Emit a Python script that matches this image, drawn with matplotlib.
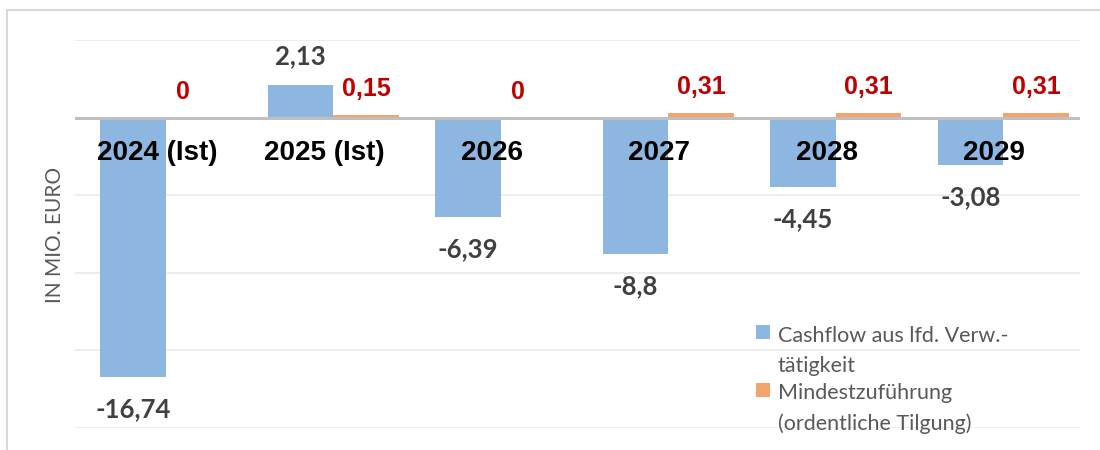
import numpy as np
import matplotlib
matplotlib.use('Agg')
import matplotlib.pyplot as plt
from matplotlib.patches import Rectangle
from matplotlib.legend_handler import HandlerPatch

categories = ['2024 (Ist)', '2025 (Ist)', '2026', '2027', '2028', '2029']
cashflow = [-16.74, 2.13, -6.39, -8.8, -4.45, -3.08]
zufuehrung = [0, 0.15, 0, 0.31, 0.31, 0.31]
series_names = ['Cashflow aus lfd. Verw.-\ntätigkeit',
                'Mindestzuführung\n(ordentliche Tilgung)']

BLUE = '#8DB7E0'
ORANGE = '#F3A46E'


def fmt(v):
    return f'{v:g}'.replace('.', ',')


class TopSquare(HandlerPatch):
    # Quadrat an der ersten Zeile des Labels ausrichten
    def __init__(self, shift, **kw):
        super().__init__(**kw)
        self.shift = shift

    def create_artists(self, legend, orig_handle, xdescent, ydescent,
                       width, height, fontsize, trans):
        p = Rectangle((-xdescent, -ydescent + self.shift), height, height,
                      facecolor=orig_handle.patches[0].get_facecolor(),
                      edgecolor='none', transform=trans)
        return [p]


fig = plt.figure(figsize=(11, 4.5), dpi=100)
ax = fig.add_axes([75 / 1100, 22 / 450, 1005 / 1100, 388 / 450])

x = np.arange(len(categories))
w = 0.39
b1 = ax.bar(x - w / 2, cashflow, w, color=BLUE, zorder=2, label=series_names[0])
b2 = ax.bar(x + w / 2, zufuehrung, w, color=ORANGE, zorder=2, label=series_names[1])

ax.set_xlim(-0.542, len(categories) - 0.542)
ax.set_ylim(-20, 5)
ax.set_yticks([-20, -15, -10, -5, 0, 5])
ax.grid(axis='y', color='#ececec', lw=1.3)
ax.set_axisbelow(True)
ax.tick_params(left=False, labelleft=False, bottom=False, labelbottom=False)
for s in ax.spines.values():
    s.set_visible(False)
ax.axhline(0, color='#bfbfbf', lw=2.2, zorder=3)

# Kategorien direkt unter der Nulllinie
for i, cat in enumerate(categories):
    ax.annotate(cat, (i, 0), xytext=(-9, -35), textcoords='offset pixels',
                ha='center', va='center', fontsize=20, fontweight='bold',
                family='Liberation Sans', color='black', zorder=6)

# Datenbeschriftungen
for i, v in enumerate(cashflow):
    dy = 28 if v > 0 else -32
    ax.annotate(fmt(v), (x[i] - w / 2, v), xytext=(0, dy), textcoords='offset pixels',
                ha='center', va='center', fontsize=18.5, fontweight='bold',
                family='Lato', color='#404040', zorder=6)
for i, v in enumerate(zufuehrung):
    dx = -16 if v == 0 else 0
    ax.annotate(fmt(v), (x[i] + w / 2, v), xytext=(dx, 26), textcoords='offset pixels',
                ha='center', va='center', fontsize=18, fontweight='bold',
                family='Liberation Sans', color='#C00000', zorder=6)

fig.text(55 / 1100, 1 - 235 / 450, 'IN MIO. EURO', rotation=90, ha='center', va='center',
         color='#595959', family='Lato', fontsize=15)

leg_fs = 15.5
handler = TopSquare(shift=13.5)
leg = ax.legend(handles=[b1, b2], loc='upper left',
                bbox_to_anchor=(756 / 1100, 1 - 326 / 450),
                bbox_transform=fig.transFigure, frameon=False, borderpad=0,
                borderaxespad=0, prop={'family': 'Lato', 'size': leg_fs},
                labelcolor='#595959', handlelength=0.62, handleheight=0.62,
                handletextpad=0.4, labelspacing=0.35,
                handler_map={b1: handler, b2: handler})
for t in leg.get_texts():
    t.set_linespacing(1.6)

fig.patches.append(Rectangle((7 / 1100, -0.1), 1.2, 440 / 450 + 0.1,
                             transform=fig.transFigure, fill=False,
                             ec='#d9d9d9', lw=1.5))

fig.savefig('out.png', dpi=100)
